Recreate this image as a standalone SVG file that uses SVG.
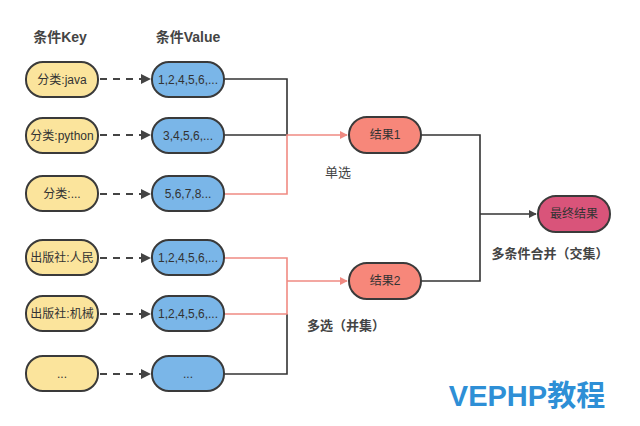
<svg xmlns="http://www.w3.org/2000/svg" width="640" height="426" viewBox="0 0 640 426">
<defs>
<style>
text{font-family:"Liberation Sans","Noto Sans CJK SC",sans-serif;text-anchor:middle;dominant-baseline:central}
.k rect{fill:#fbe49c;stroke:#3a3a3a;stroke-width:2}
.v rect{fill:#7ab6e8;stroke:#3a3a3a;stroke-width:2}
.r rect{fill:#f7877a;stroke:#3a3a3a;stroke-width:2}
.f rect{fill:#d9547a;stroke:#3a3a3a;stroke-width:2}
.n text{font-size:12px;fill:#333}
.d{stroke:#444;stroke-width:2;stroke-dasharray:7,6;fill:none}
.b{stroke:#333;stroke-width:1.6;fill:none}
.p{stroke:#f08a82;stroke-width:1.6;fill:none}
.h{font-size:14px;font-weight:bold;fill:#444}
.l{font-size:13px;fill:#444}
</style>
<marker id="a" viewBox="0 0 10 10" refX="9" refY="5" markerWidth="5" markerHeight="5" orient="auto"><path d="M0,0L10,5L0,10z" fill="#444"/></marker>
<marker id="ar" viewBox="0 0 10 10" refX="9" refY="5" markerWidth="5" markerHeight="5" orient="auto"><path d="M0,0L10,5L0,10z" fill="#f08a82"/></marker>
</defs>
<rect width="640" height="426" fill="#fff"/>
<text class="h" x="60" y="37">条件Key</text>
<text class="h" x="188" y="37">条件Value</text>
<g id="connectors">
<path class="d" d="M100,79H150" marker-end="url(#a)"/>
<path class="d" d="M100,135H150" marker-end="url(#a)"/>
<path class="d" d="M100,194H150" marker-end="url(#a)"/>
<path class="d" d="M100,258H150" marker-end="url(#a)"/>
<path class="d" d="M100,314H150" marker-end="url(#a)"/>
<path class="d" d="M100,374H150" marker-end="url(#a)"/>
<path class="b" d="M224,79H287V135H224"/>
<path class="b" d="M224,374H287V314"/>
<path class="p" d="M224,194H287V135H347" marker-end="url(#ar)"/>
<path class="p" d="M224,258H287V314H224M287,281H347" marker-end="url(#ar)"/>
<path class="b" d="M421,135H480V281H421M480,214H536" marker-end="url(#a)"/>
</g>
<g id="k1" class="n k"><rect x="26" y="62" width="72" height="35" rx="17"/><text x="62" y="79.5">分类:java</text></g>
<g id="k2" class="n k"><rect x="26" y="118" width="72" height="35" rx="17"/><text x="62" y="135.5">分类:python</text></g>
<g id="k3" class="n k"><rect x="26" y="176" width="72" height="35" rx="17"/><text x="62" y="193.5">分类:...</text></g>
<g id="k4" class="n k"><rect x="26" y="240" width="72" height="35" rx="17"/><text x="62" y="257.5">出版社:人民</text></g>
<g id="k5" class="n k"><rect x="26" y="296" width="72" height="35" rx="17"/><text x="62" y="313.5">出版社:机械</text></g>
<g id="k6" class="n k"><rect x="26" y="356" width="72" height="35" rx="17"/><text x="62" y="373.5">...</text></g>
<g id="v1" class="n v"><rect x="152" y="62" width="72" height="35" rx="17"/><text x="188" y="79.5">1,2,4,5,6,...</text></g>
<g id="v2" class="n v"><rect x="152" y="118" width="72" height="35" rx="17"/><text x="188" y="135.5">3,4,5,6,...</text></g>
<g id="v3" class="n v"><rect x="152" y="176" width="72" height="35" rx="17"/><text x="188" y="193.5">5,6,7,8...</text></g>
<g id="v4" class="n v"><rect x="152" y="240" width="72" height="35" rx="17"/><text x="188" y="257.5">1,2,4,5,6,...</text></g>
<g id="v5" class="n v"><rect x="152" y="296" width="72" height="35" rx="17"/><text x="188" y="313.5">1,2,4,5,6,...</text></g>
<g id="v6" class="n v"><rect x="152" y="356" width="72" height="35" rx="17"/><text x="188" y="373.5">...</text></g>
<g id="r1" class="n r"><rect x="349" y="117" width="72" height="36" rx="18"/><text x="385" y="135">结果1</text></g>
<g id="r2" class="n r"><rect x="349" y="263" width="72" height="36" rx="18"/><text x="385" y="281">结果2</text></g>
<g id="fin" class="n f"><rect x="538" y="196" width="72" height="36" rx="18"/><text x="574" y="214">最终结果</text></g>
<text class="l" x="338" y="172">单选</text>
<text class="l" x="346" y="325" font-weight="bold">多选（并集）</text>
<text class="l" x="550" y="253" font-weight="bold">多条件合并（交集）</text>
<text x="527" y="396" font-size="29" font-weight="bold" fill="#2e8fd6">VEPHP教程</text>
</svg>
